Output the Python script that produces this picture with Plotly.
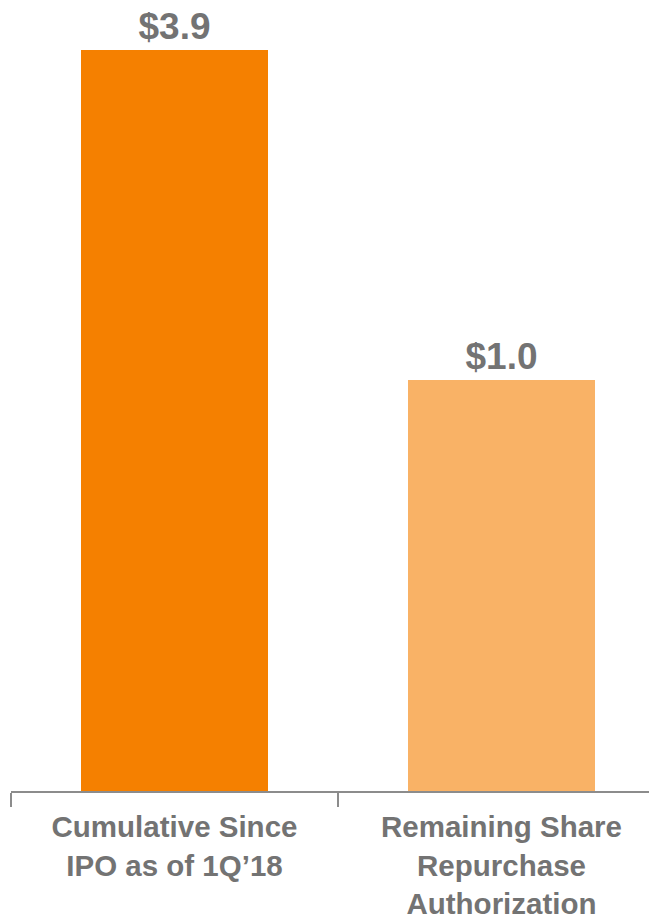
import plotly.graph_objects as go

categories = ["Cumulative Since<br>IPO as of 1Q\u201918", "Remaining Share<br>Repurchase<br>Authorization"]
values = [3.9, 1.0]
value_labels = ["$3.9", "$1.0"]
bar_colors = ["#F58000", "#F9B266"]

TEXT_GRAY = "#737373"
AXIS_GRAY = "#8C8C8C"
FONT = "Liberation Sans, Arial, sans-serif"

fig = go.Figure(
    go.Bar(
        x=categories,
        y=values,
        width=0.572,
        marker=dict(color=bar_colors, line=dict(width=0)),
        text=value_labels,
        textposition="outside",
        cliponaxis=False,
        textfont=dict(family=FONT, size=37, color=TEXT_GRAY, weight="bold"),
        hoverinfo="skip",
    )
)

# hidden value axis (non-linear scale as in the original graphic)
y_bottom = -0.73615
y_top = 0.66629

fig.update_layout(
    width=657,
    height=918,
    margin=dict(l=3, r=7, t=0, b=135, autoexpand=False),
    plot_bgcolor="white",
    paper_bgcolor="white",
    showlegend=False,
    bargap=0,
    xaxis=dict(
        type="category",
        range=[-0.5, 1.4786],
        tickson="boundaries",
        ticks="outside",
        ticklen=14,
        tickwidth=2,
        tickcolor=AXIS_GRAY,
        showline=True,
        linecolor=AXIS_GRAY,
        linewidth=2,
        showgrid=False,
        zeroline=False,
        automargin=False,
        ticklabelstandoff=9,
        tickfont=dict(family=FONT, size=29.5, color=TEXT_GRAY, weight="bold"),
        fixedrange=True,
    ),
    yaxis=dict(
        type="log",
        range=[y_bottom, y_top],
        visible=False,
        showgrid=False,
        automargin=False,
        fixedrange=True,
    ),
)

fig.write_html("out.html")
